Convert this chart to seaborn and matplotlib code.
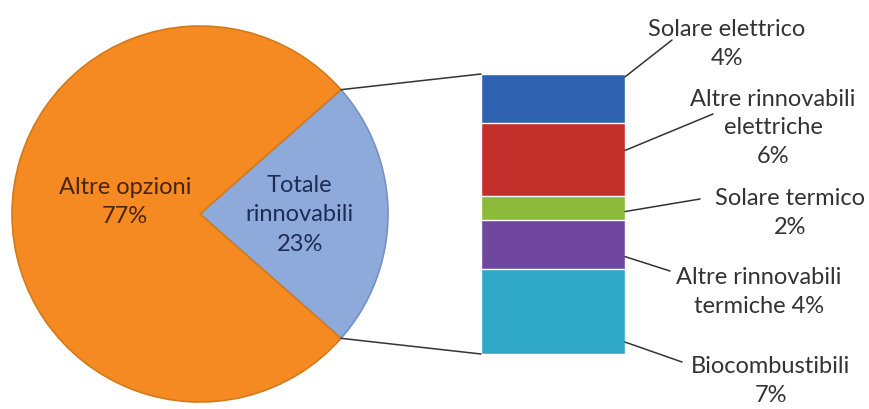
import numpy as np
import matplotlib
matplotlib.use("Agg")
import matplotlib.pyplot as plt
from matplotlib.patches import ConnectionPatch
import seaborn as sns

# data
pie_names = ['Totale\nrinnovabili', 'Altre opzioni']
pie_values = [23, 77]
pie_colors = ['#8eaadb', '#f68a22']
pie_text_colors = ['#1c2c55', '#4a2408']

bar_names = ['Solare elettrico\n4%', 'Altre rinnovabili\nelettriche\n6%', 'Solare termico\n2%',
             'Altre rinnovabili\ntermiche 4%', 'Biocombustibili\n7%']
bar_values = [4, 6, 2, 4, 7]
bar_colors = ['#2f62b0', '#c22f2b', '#8cba3a', '#6f47a0', '#2fa7c6']

sns.set_theme(style='white')
plt.rcParams['font.family'] = ['Lato', 'DejaVu Sans']

W, H = 870, 410
fig = plt.figure(figsize=(W / 100, H / 100), dpi=100)
fig.patch.set_facecolor('white')

# pie: center (200, 215) r 188 in image pixels
ax_pie = fig.add_axes([12 / W, 7 / H, 376 / W, 376 / H])
half = 360 * pie_values[0] / sum(pie_values) / 2
wedges, _ = ax_pie.pie(pie_values, colors=pie_colors, startangle=-half, counterclock=True,
                       wedgeprops=dict(edgecolor='#d27a1c', linewidth=1.2))
wedges[0].set_edgecolor('#7690c2')
ax_pie.set_xlim(-1, 1)
ax_pie.set_ylim(-1, 1)
ax_pie.set_aspect('equal')

# pie labels
label_dist = [0.53, 0.40]
for w, name, val, c, d in zip(wedges, pie_names, pie_values, pie_text_colors, label_dist):
    mid = np.deg2rad((w.theta1 + w.theta2) / 2)
    ax_pie.text(d * np.cos(mid), d * np.sin(mid) + (0.07 if val > 50 else 0), f'{name}\n{val}%',
                ha='center', va='center', fontsize=17, color=c, linespacing=1.5)

# stacked bar of the renewable split
ax_bar = fig.add_axes([481 / W, 55 / H, 144 / W, 280 / H])
cum = np.cumsum(bar_values)
for i in range(len(bar_values) - 1, -1, -1):
    sns.barplot(x=['r'], y=[cum[i]], color=bar_colors[i], width=1, saturation=1,
                ax=ax_bar, edgecolor='white', linewidth=1)
ax_bar.set_xlim(-0.5, 0.5)
ax_bar.set_ylim(sum(bar_values), 0)
ax_bar.axis('off')

# lines from the pie slice to the bar
th = np.deg2rad(half)
for sgn, yb in [(1, 0), (-1, sum(bar_values))]:
    con = ConnectionPatch(xyA=(np.cos(th), sgn * np.sin(th)), coordsA=ax_pie.transData,
                          xyB=(-0.5, yb), coordsB=ax_bar.transData, color='#333333', lw=1.1)
    fig.add_artist(con)

# labels with leader lines (positions in image pixels, from top-left)
text_pos = [(727, 44), (773, 128), (790, 213), (759, 292), (771, 381)]
lead_end = [(672, 41), (713, 115), (700, 200), (670, 272), (682, 363)]
lead_frac = [0.06, 0.38, 0.65, 0.75, 0.86]
bottoms = cum - np.array(bar_values)
for name, b, v, (tx, ty), (lx, ly), f in zip(bar_names, bottoms, bar_values, text_pos, lead_end, lead_frac):
    ax_bar.annotate('', xy=(0.5, b + f * v), xytext=(lx, H - ly), textcoords='figure pixels',
                    annotation_clip=False,
                    arrowprops=dict(arrowstyle='-', color='#333333', lw=1.1, shrinkA=0, shrinkB=0))
    fig.text(tx / W, 1 - ty / H, name, ha='center', va='center', fontsize=17,
             color='#333333', linespacing=1.45)

fig.savefig('out.png', dpi=100)
